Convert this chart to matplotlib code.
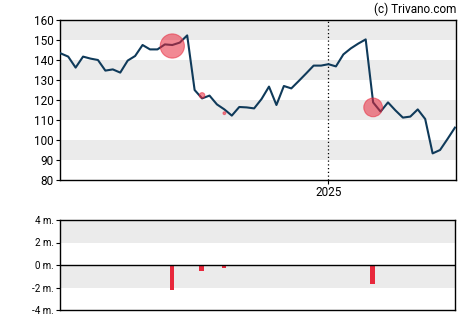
import matplotlib.pyplot as plt
import matplotlib.dates as mdates
import pandas as pd

plt.rcParams['font.family'] = ['Roboto', 'DejaVu Sans']

# weekly closing prices
dates = pd.date_range('2024-04-24', periods=54, freq='W-WED')
close = [143.3, 141.7, 136.2, 141.7, 140.7, 140.0, 134.7, 135.3, 133.7, 139.7,
         142.0, 147.5, 145.3, 145.3, 147.8, 147.5, 148.7, 152.3, 125.0, 120.8,
         122.2, 117.8, 115.3, 112.2, 116.5, 116.3, 115.8, 120.5, 126.7, 117.5,
         127.0, 125.8, 129.5, 133.3, 137.2, 137.2, 137.9, 136.8, 142.8, 145.8,
         148.2, 150.3, 118.8, 114.2, 118.8, 114.8, 111.2, 111.7, 115.3, 110.5,
         93.3, 95.0, 100.5, 106.2]

# insider sales: week index, price, volume in millions
trade_idx = [15, 19, 22, 42]
trade_price = [147.0, 122.3, 113.4, 116.3]
trade_amount = [-2.2, -0.5, -0.25, -1.7]

line_col = '#0f3a5a'
red = '#e8283c'
band = '#ebebeb'

fig = plt.figure(figsize=(4.7, 3.25), dpi=100)
ax1 = fig.add_axes([60/470, 1 - 180/325, 396/470, 160/325])
ax2 = fig.add_axes([60/470, 1 - 310/325, 395/470, 90/325])

x0 = dates[0] - pd.Timedelta(days=0.7)
x1 = dates[0] + pd.Timedelta(days=372)

# price panel
for lo in (90, 110, 130, 150):
    ax1.axhspan(lo, lo + 10, color=band, lw=0, zorder=0)
ax1.plot(dates, close, color=line_col, lw=1.5, zorder=3)
tdates = [dates[i] for i in trade_idx]
sizes = [(11 * abs(a) * 0.72) ** 2 for a in trade_amount]
ax1.scatter(tdates, trade_price, s=sizes, color=red, alpha=0.55,
            edgecolors=red, linewidths=0.8, zorder=4)
ax1.axvline(pd.Timestamp('2025-01-01'), color='black', ls=(0, (1, 2)), lw=0.9, zorder=2)
ax1.set_xlim(x0, x1)
ax1.set_ylim(80, 160)
ax1.set_yticks(range(80, 161, 10))
ax1.set_xticks([pd.Timestamp('2025-01-01')])
ax1.xaxis.set_major_formatter(mdates.DateFormatter('%Y'))
ax1.tick_params(axis='both', labelsize=8.5, length=3, width=0.8, pad=1.5, colors='black')
for s in ax1.spines.values():
    s.set_linewidth(1.0)

fig.text(456/470, 1 - 9/325, '(c) Trivano.com', ha='right', va='center', fontsize=8.5)

# volume panel
for lo in (-2, 2):
    ax2.axhspan(lo, lo + 2, color=band, lw=0, zorder=0)
ax2.bar(tdates, trade_amount, width=4.6, color=red, zorder=3)
ax2.axhline(0, color='black', lw=1.0, zorder=4)
ax2.set_xlim(x0, x1)
ax2.set_ylim(-4, 4)
ax2.set_yticks([-4, -2, 0, 2, 4])
ax2.set_yticklabels(['-4 m.', '-2 m.', '0 m.', '2 m.', '4 m.'])
ax2.set_xticks([])
ax2.tick_params(axis='y', labelsize=7, length=3, width=0.8, pad=1.5)
for s in ax2.spines.values():
    s.set_linewidth(1.0)

fig.savefig('out.png', dpi=100)
